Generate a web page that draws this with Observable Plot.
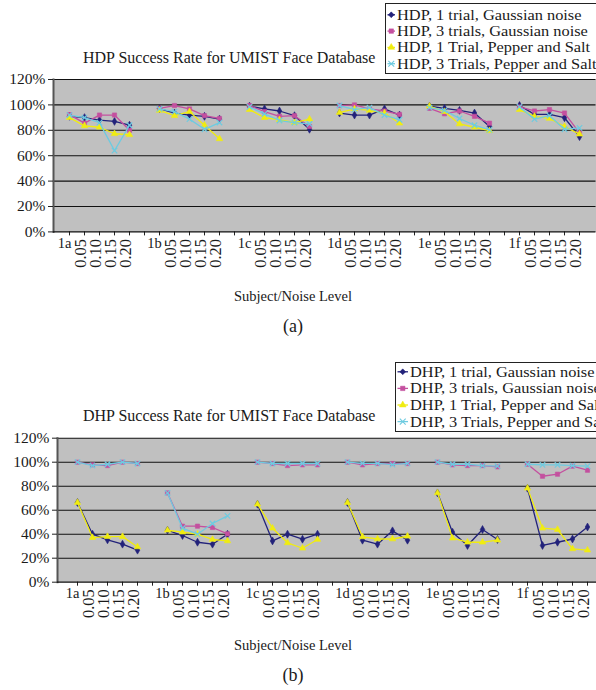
<!DOCTYPE html>
<html>
<head>
<meta charset="utf-8">
<script src="https://cdn.jsdelivr.net/npm/d3@7"></script>
<script src="https://cdn.jsdelivr.net/npm/@observablehq/plot@0.6"></script>
<style>
  html, body { margin: 0; padding: 0; background: #fff; }
  body { width: 596px; height: 690px; overflow: hidden; position: relative; }
  .panel { position: absolute; left: 0; width: 596px; overflow: hidden; }
  .panel svg { max-width: none !important; display: block; }
  .panel svg, .panel svg text, #overlay, #overlay text { font-family: "Liberation Serif", "Times New Roman", Times, serif !important; }
  #overlay { position: absolute; left: 0; top: 0; pointer-events: none; }
</style>
</head>
<body>
<div id="pa" class="panel" style="top:0px;height:300px;"></div>
<div id="pb" class="panel" style="top:350px;height:300px;"></div>
<svg id="overlay" width="596" height="690"></svg>
<script>
// ---------- data ----------
const subjects = ["1a", "1b", "1c", "1d", "1e", "1f"];
const noiseLevels = ["0.05", "0.10", "0.15", "0.20"];
const yTicks = [0, 20, 40, 60, 80, 100, 120];

const hdpNames = [
  "HDP, 1 trial, Gaussian noise",
  "HDP, 3 trials, Gaussian noise",
  "HDP, 1 Trial, Pepper and Salt",
  "HDP, 3 Trials, Pepper and Salt"
];
const dhpNames = [
  "DHP, 1 trial, Gaussian noise",
  "DHP, 3 trials, Gaussian noise",
  "DHP, 1 Trial, Pepper and Salt",
  "DHP, 3 Trials, Pepper and Salt"
];

// values per subject: clean, 0.05, 0.10, 0.15, 0.20 (percent)
const hdpGauss1  = [91, 90, 88, 87, 84,   97, 93.6, 92, 91, 88.8,   99, 96.8, 95.2, 91.5, 80.8,   93.6, 92, 92, 96.8, 92,   99, 97.3, 95.7, 93.6, 83,   99.5, 92.5, 92.5, 89.9, 75];
const hdpGauss3  = [92.3, 85.6, 92, 92, 80,   97.3, 99.5, 96.8, 91.5, 89.3,   99.5, 94.7, 91, 91.5, 83,   99.5, 100, 96.8, 95.2, 92.5,   97.3, 93, 95.2, 91, 85.6,   98.4, 95.2, 96.3, 93.6, 78];
const hdpPepper1 = [90, 83.5, 82.4, 77.3, 76.5,   95.7, 91.5, 94.7, 84, 73.3,   96.3, 90, 88.3, 86, 88.8,   94, 96.8, 95.7, 93.6, 85.6,   99, 94.7, 85, 82.4, 79.7,   96.3, 91, 89.3, 83, 77];
const hdpPepper3 = [92, 90, 86, 64, 84,   96.8, 94.7, 88.8, 80.8, 86.1,   98.4, 93, 87.7, 86, 85,   99.5, 96.3, 97.9, 92, 88.3,   97.9, 95.7, 89.3, 84, 80.3,   98.4, 88.8, 91.5, 80.8, 81.9];

const dhpGauss1  = [66.4, 40, 35.3, 31.7, 26.7,   43.3, 38.9, 33.3, 31.7, 40,   65, 34.4, 40, 35.8, 40,   66.4, 35, 31.7, 42.8, 35,   74.4, 41.7, 30.6, 43.9, 35.6,   78.3, 30.6, 33.3, 36, 46];
const dhpGauss3  = [100, 97.8, 97.2, 100, 98.9,   74.4, 46.7, 46.7, 45.6, 40.3,   100, 98.9, 97.2, 97.8, 97.8,   100, 97.8, 98.9, 98.9, 98.9,   100, 97.8, 97.2, 97.2, 96.1,   98.3, 88.3, 90, 96.7, 93.3];
const dhpPepper1 = [66.4, 37.2, 38, 38, 29.4,   43.3, 41.7, 40, 35.6, 34.4,   65, 45, 32.8, 28.3, 35.6,   66.4, 37.8, 36, 36, 38.3,   74.4, 36.7, 33.3, 33.3, 35,   78.3, 45, 43.9, 27.8, 26.7];
const dhpPepper3 = [100, 97.2, 98.3, 100, 98.9,   74.4, 45, 40, 48.9, 55.3,   100, 98.9, 98.9, 98.9, 98.9,   100, 99, 99, 98, 99,   100, 98.3, 98.3, 97.2, 96.7,   98.3, 97.8, 97.8, 97.2, 96.7];

// ---------- styles ----------
const FONT = '"Liberation Serif", "Times New Roman", Times, serif';
const seriesColors = ["#22227a", "#c4509f", "#f0ec10", "#6ecbe0"];
const seriesSymbols = ["diamond", "square", "triangle", "times"];
const PLOT_BG = "#c0c0c0";

// ---------- x categories (subject + noise slot, gap between subjects) ----------
const keyOf = (s, j) => s + "|" + j;
const xDomain = [];
subjects.forEach((s, i) => {
  for (let j = 0; j < 5; j++) xDomain.push(keyOf(s, j));
  if (i < subjects.length - 1) xDomain.push(s + "|gap");
});
const noiseKeys = [];
subjects.forEach(s => noiseLevels.forEach((n, j) => noiseKeys.push(keyOf(s, j + 1))));
const noiseLabel = k => noiseLevels[+k.split("|")[1] - 1];

function buildRows(names, arrays) {
  const out = [];
  arrays.forEach((arr, k) => arr.forEach((v, idx) => {
    const s = subjects[Math.floor(idx / 5)];
    out.push({ k, series: names[k], subject: s, key: keyOf(s, idx % 5), value: v });
  }));
  return out;
}

function makePanel(cfg) {
  const data = buildRows(cfg.names, cfg.values);
  const seriesMarks = [];
  cfg.names.forEach((name, k) => {
    const rows = data.filter(d => d.k === k);
    seriesMarks.push(Plot.line(rows, { x: "key", y: "value", z: "subject", stroke: seriesColors[k], strokeWidth: 1.3 }));
    const isStroke = seriesSymbols[k] === "times";
    seriesMarks.push(Plot.dot(rows, {
      x: "key", y: "value", symbol: seriesSymbols[k], r: isStroke ? 2.6 : 2.4,
      fill: isStroke ? "none" : seriesColors[k], stroke: seriesColors[k], strokeWidth: isStroke ? 1.2 : 0.6
    }));
  });
  return Plot.plot({
    width: cfg.width, height: cfg.height,
    marginLeft: cfg.left, marginRight: 0, marginTop: cfg.top,
    marginBottom: cfg.height - cfg.top - cfg.plotH,
    style: { background: "transparent", fontFamily: FONT, fontSize: "15px", color: "#1a1a1a", overflow: "visible", maxWidth: "none" },
    x: { type: "point", domain: xDomain, padding: 0.5, axis: null, label: null },
    y: { domain: [0, 120], axis: null, label: null },
    marks: [
      Plot.frame({ fill: PLOT_BG, stroke: null }),
      Plot.gridY(yTicks.filter(v => v > 0), { stroke: "#111", strokeOpacity: 1, strokeWidth: 1.1 }),
      Plot.frame({ anchor: "left", stroke: "#555", strokeWidth: 2 }),
      Plot.axisY(yTicks, { tickFormat: d => d + "%", tickSize: 5, tickPadding: 3, fontSize: 15.5, stroke: "#222", label: null }),
      Plot.axisX(xDomain, { tickFormat: () => "", tickSize: 4, stroke: "#222", label: null }),
      Plot.axisX(noiseKeys, { tickFormat: noiseLabel, tickSize: 0, tickPadding: 7, tickRotate: -90, fontSize: 16.5, dx: -4, label: null }),
      Plot.text(subjects, { x: s => keyOf(s, 0), frameAnchor: "bottom", dy: 16, dx: -5, fontSize: 14.5, fill: "#1a1a1a" }),
      Plot.ruleY([0], { stroke: "#111", strokeWidth: 1.2 }),
      ...seriesMarks
    ]
  });
}

// Panel (a): svg top 0
document.getElementById("pa").append(makePanel({
  names: hdpNames, values: [hdpGauss1, hdpGauss3, hdpPepper1, hdpPepper3],
  width: 595.5, left: 53, height: 300, top: 79, plotH: 152.4
}));
// Panel (b): svg top 350
document.getElementById("pb").append(makePanel({
  names: dhpNames, values: [dhpGauss1, dhpGauss3, dhpPepper1, dhpPepper3],
  width: 606.5, left: 57, height: 300, top: 87.7, plotH: 144
}));

// ---------- titles, axis titles, captions, legends ----------
const ov = d3.select("#overlay");
function txt(s, x, y, size, anchor, sx) {
  const t = ov.append("text").attr("font-size", size)
    .attr("text-anchor", anchor || "start").attr("fill", "#1a1a1a").text(s);
  if (sx) t.attr("transform", `translate(${x},${y}) scale(${sx},1)`);
  else t.attr("x", x).attr("y", y);
}
txt("HDP Success Rate for UMIST Face Database", 83, 63, 16);
txt("DHP Success Rate for UMIST Face Database", 83, 421, 16);
txt("Subject/Noise Level", 293, 300.5, 14.5, "middle");
txt("Subject/Noise Level", 293, 650, 14.5, "middle");
txt("(a)", 293, 332, 18, "middle");
txt("(b)", 293, 681, 18, "middle");

const symbolPath = {
  diamond: d3.symbol(d3.symbolDiamond2 || d3.symbolDiamond, 22)(),
  square: d3.symbol(d3.symbolSquare, 20)(),
  triangle: d3.symbol(d3.symbolTriangle, 20)(),
  times: d3.symbol(d3.symbolTimes || d3.symbolX, 24)()
};
function legend(names, bx, by, bh, textX, baselines) {
  ov.append("rect").attr("x", bx).attr("y", by).attr("width", 400).attr("height", bh)
    .attr("fill", "#fff").attr("stroke", "#222").attr("stroke-width", 1);
  names.forEach((n, k) => {
    const yb = baselines[k], ym = yb - 5;
    ov.append("line").attr("x1", bx + 2).attr("x2", textX - 2).attr("y1", ym).attr("y2", ym)
      .attr("stroke", seriesColors[k]).attr("stroke-width", 1.3);
    const isStroke = seriesSymbols[k] === "times";
    ov.append("path").attr("d", symbolPath[seriesSymbols[k]])
      .attr("transform", `translate(${(bx + textX) / 2},${ym})`)
      .attr("fill", isStroke ? "none" : seriesColors[k]).attr("stroke", seriesColors[k])
      .attr("stroke-width", isStroke ? 1.1 : 0.5);
    txt(n, textX, yb, 14, "start", 1.17);
  });
}
legend(hdpNames, 385.5, 3.5, 70, 397, [19.8, 36.1, 52.4, 68.7]);
legend(dhpNames, 395.5, 362.5, 69, 410, [376.8, 393.4, 410, 426.6]);
</script>
</body>
</html>
